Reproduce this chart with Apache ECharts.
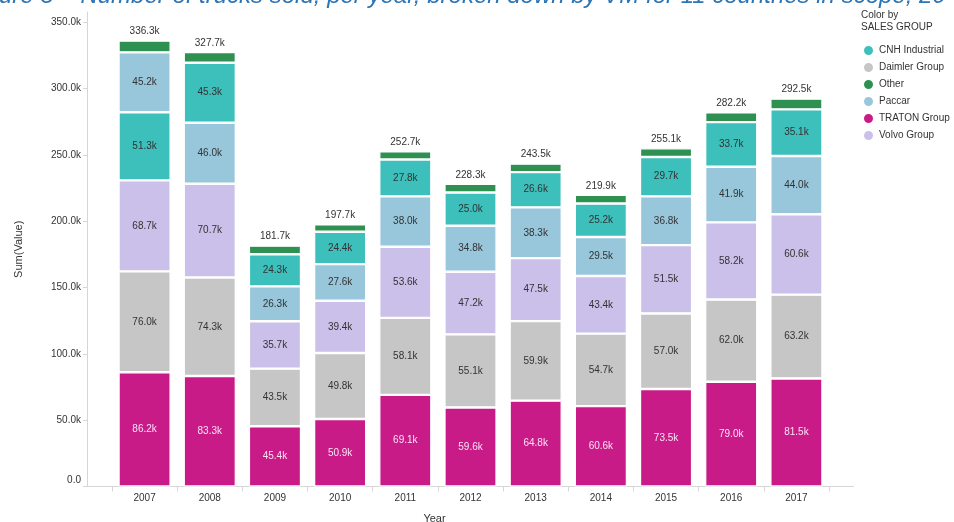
<!DOCTYPE html>
<html>
<head>
<meta charset="utf-8">
<script src="https://cdn.jsdelivr.net/npm/echarts@6/dist/echarts.min.js"></script>
<style>
html,body{margin:0;padding:0;background:#fff;}
#c{width:954px;height:522px;}
</style>
</head>
<body>
<div id="c"></div>
<script>
const years = ['2007','2008','2009','2010','2011','2012','2013','2014','2015','2016','2017'];
const traton = [86.2, 83.3, 45.4, 50.9, 69.1, 59.6, 64.8, 60.6, 73.5, 79.0, 81.5];
const daimler = [76.0, 74.3, 43.5, 49.8, 58.1, 55.1, 59.9, 54.7, 57.0, 62.0, 63.2];
const volvo = [68.7, 70.7, 35.7, 39.4, 53.6, 47.2, 47.5, 43.4, 51.5, 58.2, 60.6];
const paccar = [45.2, 46.0, 26.3, 27.6, 38.0, 34.8, 38.3, 29.5, 36.8, 41.9, 44.0];
const cnh = [51.3, 45.3, 24.3, 24.4, 27.8, 25.0, 26.6, 25.2, 29.7, 33.7, 35.1];
const other = [8.9, 8.1, 6.5, 5.6, 6.1, 6.6, 6.4, 6.5, 6.6, 7.4, 8.1];
const yTicks = [0, 50, 100, 150, 200, 250, 300, 350];

const colors = {
  'CNH Industrial': '#3dbfbb',
  'Daimler Group': '#c6c6c6',
  'Other': '#2e9152',
  'Paccar': '#98c6db',
  'TRATON Group': '#c81b88',
  'Volvo Group': '#cbc0e9'
};
const FONT = 'Liberation Sans, Arial, sans-serif';
const fmtK = v => v.toFixed(1) + 'k';

// Stacking follows size within each bar: CNH sits below Paccar only where it is larger
const cnhLow = cnh.map((v, i) => v > paccar[i] ? v : '-');
const cnhHigh = cnh.map((v, i) => v > paccar[i] ? '-' : v);
const totals = years.map((_, i) => traton[i] + daimler[i] + volvo[i] + paccar[i] + cnh[i] + other[i]);

function seg(name, data, labelColor) {
  return {
    name: name, type: 'bar', stack: 'total', data: data,
    barCategoryGap: '20%',
    itemStyle: { color: colors[name], borderColor: '#ffffff', borderWidth: 1.2 },
    label: {
      show: true, position: 'inside', color: labelColor,
      fontFamily: FONT, fontSize: 10,
      formatter: p => fmtK(p.value)
    },
    emphasis: { disabled: true }
  };
}

const chart = echarts.init(document.getElementById('c'), null, { renderer: 'canvas' });
const gridTop = 12, gridBottomY = 486.5;
const option = {
  animation: false,
  backgroundColor: '#ffffff',
  textStyle: { fontFamily: FONT },
  grid: { left: 112, right: 125, top: gridTop, bottom: 522 - gridBottomY, containLabel: false, outerBoundsMode: 'none' },
  legend: {
    orient: 'vertical', left: 857, top: 39,
    icon: 'circle', itemWidth: 11, itemHeight: 11, itemGap: 4,
    data: ['CNH Industrial', 'Daimler Group', 'Other', 'Paccar', 'TRATON Group', 'Volvo Group'],
    textStyle: { fontFamily: FONT, fontSize: 10, color: '#333' },
    selectedMode: false
  },
  xAxis: {
    type: 'category', data: years,
    axisLine: { show: true, lineStyle: { color: '#d6d6d6', width: 1 } },
    axisTick: { show: true, length: 5, lineStyle: { color: '#d6d6d6' } },
    axisLabel: { color: '#333', fontSize: 10, fontFamily: FONT, margin: 7 },
    name: 'Year', nameLocation: 'middle', nameGap: 27,
    nameTextStyle: { color: '#333', fontSize: 11, fontFamily: FONT, padding: [0, 72, 0, 0] }
  },
  yAxis: {
    type: 'value', min: 0, max: (gridBottomY - gridTop) / 1.326, interval: 50,
    offset: 25,
    axisLine: { show: true, lineStyle: { color: '#d6d6d6', width: 1 } },
    axisTick: { show: true, length: 4, lineStyle: { color: '#d6d6d6' } },
    splitLine: { show: false },
    axisLabel: {
      color: '#333', fontSize: 10, fontFamily: FONT, margin: 6,
      showMaxLabel: false,
      formatter: v => (yTicks.indexOf(Math.round(v)) >= 0 ? (v === 0 ? '{z|0.0}' : fmtK(v)) : ''),
      rich: { z: { fontSize: 10, fontFamily: FONT, color: '#333', padding: [0, 0, 12, 0] } }
    },
    name: 'Sum(Value)', nameLocation: 'middle', nameGap: 63, nameRotate: 90,
    nameTextStyle: { color: '#333', fontSize: 11, fontFamily: FONT }
  },
  series: [
    seg('TRATON Group', traton, '#fbe3f2'),
    seg('Daimler Group', daimler, '#333333'),
    seg('Volvo Group', volvo, '#333333'),
    seg('CNH Industrial', cnhLow, '#333333'),
    seg('Paccar', paccar, '#333333'),
    seg('CNH Industrial', cnhHigh, '#333333'),
    Object.assign(seg('Other', other, '#333333'), {
      label: {
        show: true, position: 'top', distance: 4, color: '#333',
        fontFamily: FONT, fontSize: 10,
        formatter: p => fmtK(totals[p.dataIndex])
      }
    })
  ],
  graphic: [
    {
      type: 'text', left: -1, top: -16, silent: true,
      style: {
        text: 'ure 3 – Number of trucks sold, per year, broken down by VM for 11 countries in scope, 20',
        fill: '#2e75b6', font: 'italic 24px ' + FONT
      }
    },
    {
      type: 'text', left: 861, top: 9, silent: true,
      style: { text: 'Color by\nSALES GROUP', fill: '#333', font: '10px ' + FONT, lineHeight: 12 }
    },
    {
      type: 'line', silent: true,
      shape: { x1: 87, y1: gridBottomY, x2: 854, y2: gridBottomY },
      style: { stroke: '#d6d6d6', lineWidth: 1 }
    }
  ]
};
chart.setOption(option);
</script>
</body>
</html>
